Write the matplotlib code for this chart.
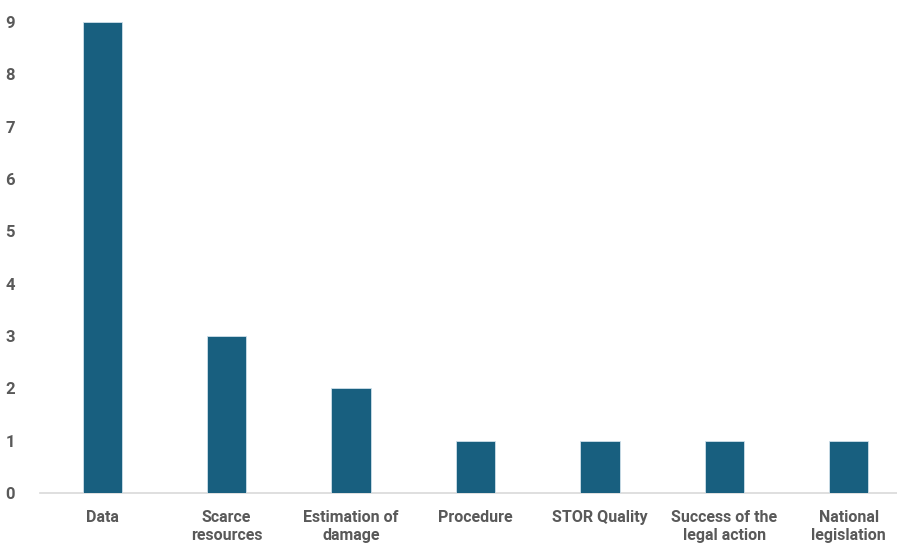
import matplotlib.pyplot as plt

categories = ["Data", "Scarce\nresources", "Estimation of\ndamage", "Procedure",
              "STOR Quality", "Success of the\nlegal action", "National\nlegislation"]
values = [9, 3, 2, 1, 1, 1, 1]

plt.rcParams['font.family'] = ['Roboto', 'DejaVu Sans']

fig = plt.figure(figsize=(8.97, 5.47), dpi=100)
ax = fig.add_axes([40 / 897, 54 / 547, 871 / 897, 471 / 547])

x = range(len(categories))
ax.bar(x, values, width=0.315, color="#185f7f", edgecolor="#cfe0ea", linewidth=0.6, zorder=3)

ax.set_xlim(-0.5, len(categories) - 0.5)
ax.set_ylim(0, 9)
ax.set_yticks(range(0, 10))
ax.set_xticks(list(x))
ax.set_xticklabels(categories, fontsize=11.5, fontweight="bold", color="#595959",
                   linespacing=1.3, va="top")

for s in ["top", "right", "left"]:
    ax.spines[s].set_visible(False)
ax.spines["bottom"].set_color("#d9d9d9")
ax.spines["bottom"].set_linewidth(1.2)

ax.tick_params(axis="y", length=0, pad=18, labelsize=12, labelcolor="#595959")
ax.tick_params(axis="x", length=0, pad=12)
for lbl in ax.get_yticklabels():
    lbl.set_fontweight("bold")

fig.savefig("out.png", dpi=100)
